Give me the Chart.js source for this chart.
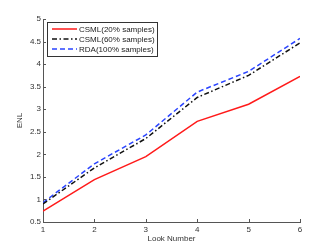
<!DOCTYPE html>
<html lang="en">
<head>
    <meta charset="UTF-8">
    <title>ENL vs Look Number</title>
    <script src="https://cdn.jsdelivr.net/npm/chart.js"></script>
    <style>
        body { margin: 0; background: #fff; }
    </style>
</head>
<body>
    <canvas id="enlChart" width="332" height="250"></canvas>

    <script>
        const looks = [1, 2, 3, 4, 5, 6];
        const csml20 = [0.74, 1.44, 1.95, 2.73, 3.11, 3.73];
        const csml60 = [0.90, 1.70, 2.35, 3.26, 3.75, 4.47];
        const rda100 = [0.93, 1.79, 2.43, 3.38, 3.84, 4.57];
        const seriesNames = ['CSML(20% samples)', 'CSML(60% samples)', 'RDA(100% samples)'];

        const font = { family: 'Liberation Sans, Arial, sans-serif', size: 8 };
        const axisColor = '#555';

        const toPoints = arr => arr.map((v, i) => ({ x: looks[i], y: v }));

        // inward ticks, axis titles and boxed legend like the matlab figure
        const matlabLook = {
            id: 'matlabLook',
            afterDraw(chart) {
                const ctx = chart.ctx;
                const a = chart.chartArea;
                const xs = chart.scales.x, ys = chart.scales.y;
                ctx.save();
                ctx.strokeStyle = axisColor;
                ctx.lineWidth = 1;
                ctx.beginPath();
                xs.ticks.forEach(t => {
                    const px = Math.round(xs.getPixelForValue(t.value)) + 0.5;
                    ctx.moveTo(px, a.bottom);
                    ctx.lineTo(px, a.bottom - 3);
                });
                ys.ticks.forEach(t => {
                    const py = Math.round(ys.getPixelForValue(t.value)) + 0.5;
                    ctx.moveTo(a.left, py);
                    ctx.lineTo(a.left + 3, py);
                });
                ctx.stroke();

                ctx.fillStyle = '#333';
                ctx.font = '8px ' + font.family;
                ctx.textAlign = 'center';
                ctx.textBaseline = 'middle';
                ctx.fillText('Look Number', (a.left + a.right) / 2, 239);
                ctx.save();
                ctx.translate(20, (a.top + a.bottom) / 2);
                ctx.rotate(-Math.PI / 2);
                ctx.fillText('ENL', 0, 0);
                ctx.restore();

                // legend
                const lx = 47, ly = 22, lw = 110, lh = 34;
                ctx.fillStyle = '#fff';
                ctx.fillRect(lx, ly, lw, lh);
                ctx.strokeStyle = '#333';
                ctx.lineWidth = 1;
                ctx.strokeRect(lx + 0.5, ly + 0.5, lw, lh);
                ctx.textAlign = 'left';
                chart.data.datasets.forEach((ds, i) => {
                    const y = ly + 7 + i * 10;
                    ctx.strokeStyle = ds.borderColor;
                    ctx.lineWidth = ds.borderWidth;
                    ctx.setLineDash(ds.borderDash || []);
                    ctx.beginPath();
                    ctx.moveTo(lx + 5, y);
                    ctx.lineTo(lx + 30, y);
                    ctx.stroke();
                    ctx.setLineDash([]);
                    ctx.fillStyle = '#222';
                    ctx.fillText(ds.label, lx + 32, y + 0.5);
                });
                ctx.restore();
            }
        };

        new Chart(document.getElementById('enlChart'), {
            type: 'line',
            data: {
                datasets: [
                    { label: seriesNames[0], data: toPoints(csml20), borderColor: '#ff1a1a', borderWidth: 1.5 },
                    { label: seriesNames[1], data: toPoints(csml60), borderColor: '#111', borderWidth: 1.5, borderDash: [5, 2.5, 1.5, 2.5] },
                    { label: seriesNames[2], data: toPoints(rda100), borderColor: '#2a44ff', borderWidth: 1.5, borderDash: [5, 3] }
                ]
            },
            options: {
                responsive: false,
                animation: false,
                elements: { point: { radius: 0 }, line: { tension: 0 } },
                layout: { padding: { top: 19, right: 32, left: 0, bottom: 0 } },
                plugins: { legend: { display: false }, tooltip: { enabled: false } },
                scales: {
                    x: {
                        type: 'linear',
                        min: 1, max: 6,
                        afterFit: s => { s.height = 28; },
                        grid: { display: false, drawTicks: false },
                        border: { color: axisColor },
                        ticks: { stepSize: 1, font: font, color: '#333', padding: 3, maxRotation: 0 }
                    },
                    y: {
                        min: 0.5, max: 5,
                        afterFit: s => { s.width = 43; },
                        grid: { display: false, drawTicks: false },
                        border: { color: axisColor },
                        ticks: { stepSize: 0.5, font: font, color: '#333', padding: 2, callback: v => String(v) }
                    }
                }
            },
            plugins: [matlabLook]
        });
    </script>
</body>
</html>
